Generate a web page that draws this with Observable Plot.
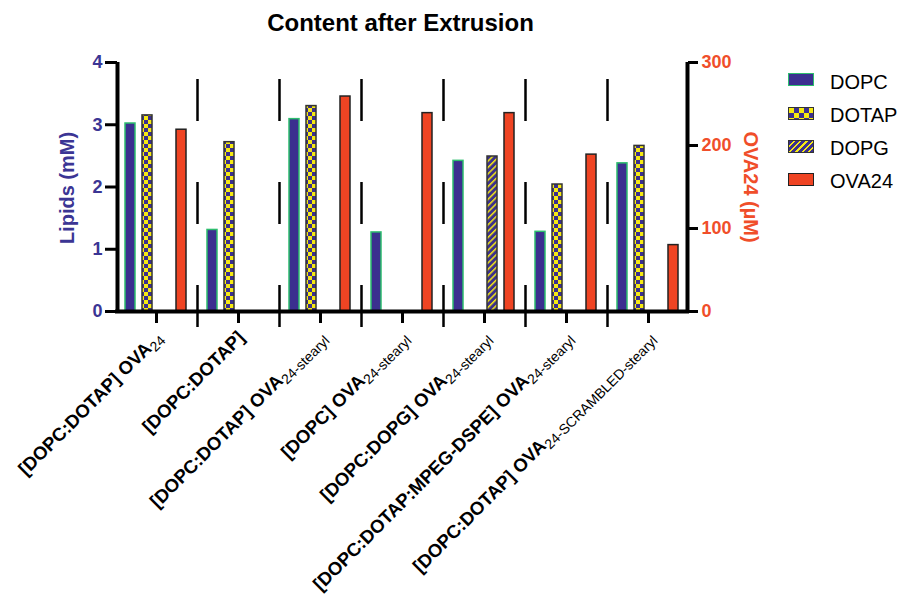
<!DOCTYPE html>
<html><head><meta charset="utf-8">
<script src="https://cdn.jsdelivr.net/npm/d3@7"></script>
<script src="https://cdn.jsdelivr.net/npm/@observablehq/plot@0.6"></script>
<style>
body{margin:0;background:#fff;font-family:"Liberation Sans",Arial,sans-serif;}
#wrap{position:relative;width:901px;height:596px;overflow:hidden;background:#fff;}
#title{position:absolute;left:0;top:11px;width:801px;text-align:center;font-size:24px;font-weight:bold;line-height:1;color:#000;}
#chart{position:absolute;left:0;top:40px;}
.ax{position:absolute;white-space:nowrap;font-size:20px;font-weight:bold;line-height:1;}
.sw{position:absolute;width:26px;height:13px;box-sizing:border-box;}
.lt{position:absolute;font-size:20px;line-height:1;color:#000;white-space:nowrap;}
</style></head>
<body>
<div id="wrap">
  <div id="title">Content after Extrusion</div>
  <div id="chart"></div>
</div>
<script>
// ---- data ----
const groupMain = ["[DOPC:DOTAP] OVA", "[DOPC:DOTAP]", "[DOPC:DOTAP] OVA", "[DOPC] OVA", "[DOPC:DOPG] OVA", "[DOPC:DOTAP:MPEG-DSPE] OVA", "[DOPC:DOTAP] OVA"];
const groupSub = ["24", "", "24-stearyl", "24-stearyl", "24-stearyl", "24-stearyl", "24-SCRAMBLED-stearyl"];
const series = ["DOPC", "DOTAP", "DOPG", "OVA24"];
const dopc  = [3.02, 1.31, 3.09, 1.27, 2.42, 1.28, 2.38];
const dotap = [3.15, 2.72, 3.30, null, null, 2.04, 2.66];
const dopg  = [null, null, null, null, 2.49, null, null];
const ova24 = [219, null, 259, 239, 239, 189, 80];   // µM, right axis
const lipidTicks = [0, 1, 2, 3, 4];
const ovaTicks = [0, 100, 200, 300];
const leftTitle = "Lipids (mM)";
const rightTitle = "OVA24 (µM)";

// ---- build table ----
const groups = groupMain.map((m, i) => m + groupSub[i]);
const ratio = ovaTicks[ovaTicks.length - 1] / lipidTicks[lipidTicks.length - 1];
const seriesValues = {DOPC: dopc, DOTAP: dotap, DOPG: dopg, OVA24: ova24};
const rows = [];
for (const s of series) {
  seriesValues[s].forEach((v, i) => {
    if (v == null) return;
    rows.push({group: groups[i], series: s, value: v, y: s === "OVA24" ? v / ratio : v});
  });
}

const BLUE = "#3b2f8f", YELLOW = "#f6ea12", GREEN = "#2dbd6e", RED = "#ef4423";
const AXBLUE = "#3b3594", AXRED = "#f04e2a";
const styles = {
  DOPC:  {fill: BLUE, stroke: GREEN},
  DOTAP: {fill: "url(#checker)", stroke: "#333"},
  DOPG:  {fill: "url(#stripes)", stroke: "#333"},
  OVA24: {fill: RED, stroke: "#222"}
};

const W = 901, H = 556, ML = 115, MR = 212, MT = 22, MB = 285;
const step = (W - ML - MR) / groups.length;
const frameH = H - MT - MB;

const barMarks = series.map(s => Plot.barY(rows.filter(r => r.series === s), {
  fx: "group", x: "series", y: "y", fill: styles[s].fill, stroke: styles[s].stroke, strokeWidth: 1.5
}));

const svg = Plot.plot({
  width: W, height: H, marginLeft: ML, marginRight: MR, marginTop: MT, marginBottom: MB,
  style: {fontFamily: "'Liberation Sans', Arial, sans-serif", background: "white", overflow: "visible"},
  fx: {domain: groups, padding: 0, axis: null},
  x: {domain: series, paddingInner: 0.432, paddingOuter: 0.545, align: 0.456, axis: null},
  y: {domain: [lipidTicks[0], lipidTicks[lipidTicks.length - 1]]},
  marks: [
    // dashed group separators
    Plot.ruleX(groups.slice(1), {fx: d => d, x: null, dx: -step / 2, insetTop: 17, insetBottom: -16,
      stroke: "black", strokeWidth: 2.5, strokeDasharray: "42,61"}),
    ...barMarks,
    // x baseline
    Plot.ruleY([0], {stroke: "black", strokeWidth: 4}),
    // y axis lines
    Plot.ruleX([groups[0]], {fx: d => d, x: null, dx: -step / 2 + 2, insetBottom: -2, stroke: "black", strokeWidth: 4}),
    Plot.ruleX([groups[groups.length - 1]], {fx: d => d, x: null, dx: step / 2 - 2, insetBottom: -2, stroke: "black", strokeWidth: 4}),
    // bottom ticks at group centers
    Plot.ruleX(groups, {fx: d => d, x: null, insetTop: frameH, insetBottom: -12, stroke: "black", strokeWidth: 3}),
    Plot.axisY({anchor: "left", ticks: lipidTicks, tickSize: 12, tickPadding: 3, dx: 2,
      stroke: "black", strokeWidth: 3, fill: AXBLUE, fontSize: 18, fontWeight: "bold", label: null,
      tickFormat: d => String(d)}),
    Plot.axisY({anchor: "right", ticks: ovaTicks.map(v => v / ratio), tickSize: 10, tickPadding: 4, dx: -2,
      stroke: "black", strokeWidth: 3, fill: AXRED, fontSize: 18, fontWeight: "bold", label: null,
      tickFormat: d => String(Math.round(d * ratio))}),
    // group labels
    Plot.text(groups, {fx: d => d, text: d => d, frameAnchor: "bottom", rotate: -45,
      textAnchor: "end", lineAnchor: "middle", dx: 3, dy: 23, fontSize: 18.5, fontWeight: "bold",
      fill: "black"})
  ]
});

// patterns
const ns = "http://www.w3.org/2000/svg";
const defs = d3.select(svg).insert("defs", ":first-child");
const ck = defs.append("pattern").attr("id", "checker").attr("patternUnits", "userSpaceOnUse")
  .attr("width", 8).attr("height", 8);
ck.append("rect").attr("width", 8).attr("height", 8).attr("fill", YELLOW);
ck.append("rect").attr("width", 4).attr("height", 4).attr("fill", BLUE);
ck.append("rect").attr("x", 4).attr("y", 4).attr("width", 4).attr("height", 4).attr("fill", BLUE);
const st = defs.append("pattern").attr("id", "stripes").attr("patternUnits", "userSpaceOnUse")
  .attr("width", 4.5).attr("height", 4.5).attr("patternTransform", "rotate(45)");
st.append("rect").attr("width", 4.5).attr("height", 4.5).attr("fill", BLUE);
st.append("rect").attr("width", 1.5).attr("height", 4.5).attr("fill", YELLOW);

// subscripts in group labels
svg.querySelectorAll("text").forEach(el => {
  const i = groups.indexOf(el.textContent.trim());
  if (i < 0) return;
  el.textContent = groupMain[i];
  if (groupSub[i]) {
    const t = document.createElementNS(ns, "tspan");
    t.setAttribute("dy", "4");
    t.setAttribute("font-size", "14");
    t.setAttribute("font-weight", "normal");
    t.textContent = groupSub[i];
    el.appendChild(t);
  }
});

document.getElementById("chart").appendChild(svg);

// axis titles
const wrap = document.getElementById("wrap");
function axTitle(text, x, y, rot, color) {
  const d = document.createElement("div");
  d.className = "ax"; d.textContent = text;
  d.style.left = x + "px"; d.style.top = y + "px"; d.style.color = color;
  d.style.transform = `translate(-50%,-50%) rotate(${rot}deg)`;
  wrap.appendChild(d);
}
axTitle(leftTitle, 66.5, 188, -90, AXBLUE);
axTitle(rightTitle, 751, 187, 90, AXRED);

// legend
const legendBg = {
  DOPC: `background:${BLUE};border:1.5px solid ${GREEN};`,
  DOTAP: `background-color:${YELLOW};background-image:conic-gradient(${BLUE} 25%, transparent 0 50%, ${BLUE} 0 75%, transparent 0);background-size:10px 10px;border:1.5px solid #333;`,
  DOPG: `background:repeating-linear-gradient(135deg, ${BLUE} 0 3px, ${YELLOW} 3px 4.5px);border:1.5px solid #333;`,
  OVA24: `background:${RED};border:1.5px solid #222;`
};
series.forEach((s, i) => {
  const top = 73.3 + i * 33.3;
  const sw = document.createElement("div");
  sw.className = "sw"; sw.style.cssText = `left:788px;top:${top}px;` + legendBg[s];
  wrap.appendChild(sw);
  const t = document.createElement("div");
  t.className = "lt"; t.textContent = s;
  t.style.left = "830px"; t.style.top = (71.5 + i * 33.3) + "px";
  wrap.appendChild(t);
});
</script>
</body></html>
